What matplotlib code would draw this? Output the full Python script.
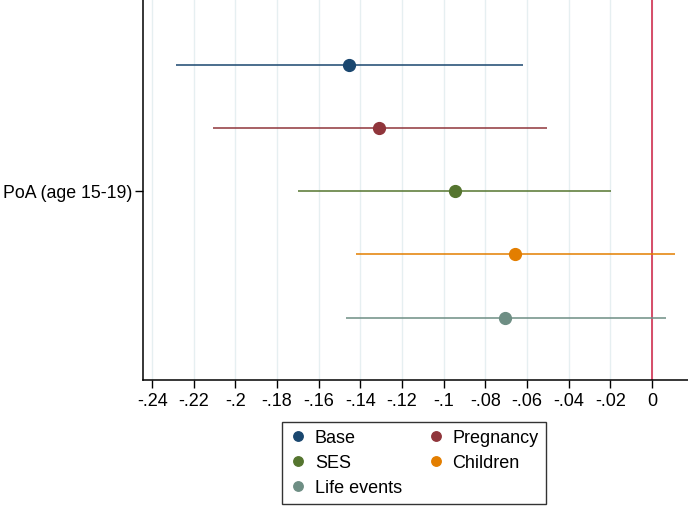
"""
Coefficient plot: PoA (age 15-19) across model specifications
"""

import matplotlib.pyplot as plt

# ============================================================================
# DATA
# ============================================================================

modelos = ['Base', 'Pregnancy', 'SES', 'Children', 'Life events']
estimaciones = [-0.1455, -0.131, -0.0946, -0.0658, -0.0706]
ci_bajo = [-0.2285, -0.211, -0.170, -0.142, -0.147]
ci_alto = [-0.0619, -0.0504, -0.0197, 0.011, 0.0067]
colores = ['#1a476f', '#90353b', '#55752f', '#e37e00', '#6e8e84']
xticks = [-0.24, -0.22, -0.2, -0.18, -0.16, -0.14, -0.12, -0.1,
          -0.08, -0.06, -0.04, -0.02, 0]
xtick_labels = ['-.24', '-.22', '-.2', '-.18', '-.16', '-.14', '-.12', '-.1',
                '-.08', '-.06', '-.04', '-.02', '0']
etiqueta_y = 'PoA (age 15-19)'

# ============================================================================
# GRAFICO
# ============================================================================

plt.rcParams['font.family'] = ['Liberation Sans', 'DejaVu Sans']

fig = plt.figure(figsize=(6.88, 5.07), dpi=100)
ax = fig.add_axes([143 / 688, 127 / 507, 1 - 143 / 688, 380 / 507])

# posiciones verticales: primer modelo arriba
posiciones = [2, 1, 0, -1, -2]

handles = {}
for i, m in enumerate(modelos):
    y = posiciones[i]
    ax.plot([ci_bajo[i], ci_alto[i]], [y, y], color=colores[i], lw=1.1,
            solid_capstyle='butt', zorder=3)
    h, = ax.plot(estimaciones[i], y, 'o', color=colores[i], markersize=8.5,
                 zorder=4, label=m)
    handles[m] = h

ax.axvline(0, color='#d43f5d', lw=1.3, zorder=2)

ax.set_xlim(-0.2444, 0.0173)
ax.set_ylim(-2.985, 3.02)
ax.set_xticks(xticks)
ax.set_xticklabels(xtick_labels, fontsize=13)
ax.set_yticks([0])
ax.set_yticklabels([etiqueta_y], fontsize=12.8)
ax.tick_params(axis='both', length=6, width=1, color='black')
ax.tick_params(axis='y', pad=2)
ax.grid(axis='x', color='#e6eff1', lw=1, zorder=0)

for lado in ['top', 'right']:
    ax.spines[lado].set_visible(False)
for lado in ['left', 'bottom']:
    ax.spines[lado].set_linewidth(1.1)

# leyenda por filas (como Stata): se reordena para llenado por columnas
orden = ['Base', 'SES', 'Life events', 'Pregnancy', 'Children']
leg = fig.legend([handles[o] for o in orden], orden,
                 loc='lower center', bbox_to_anchor=(414 / 688, 3 / 507),
                 borderaxespad=0,
                 ncol=2, frameon=True, fancybox=False, fontsize=13,
                 handletextpad=0.4, columnspacing=1.4, borderpad=0.4,
                 labelspacing=0.45, handlelength=1.0, markerscale=0.8)
leg.get_frame().set_edgecolor('black')
leg.get_frame().set_linewidth(1)

fig.savefig('out.png', dpi=100)
